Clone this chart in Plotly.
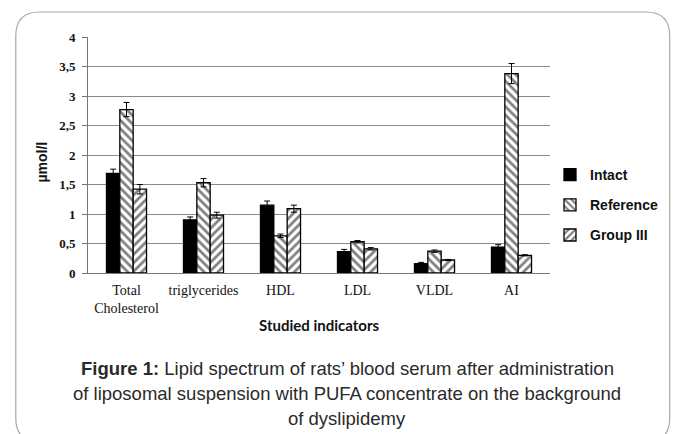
import plotly.graph_objects as go

# Lipid indicators per group (µmol/l) with their error margins
categories = ["Total<br>Cholesterol", "triglycerides", "HDL", "LDL", "VLDL", "AI"]
intact = [1.69, 0.90, 1.15, 0.36, 0.16, 0.44]
intact_err = [0.07, 0.05, 0.07, 0.04, 0.02, 0.04]
reference = [2.77, 1.53, 0.63, 0.53, 0.37, 3.38]
reference_err = [0.12, 0.07, 0.03, 0.02, 0.02, 0.17]
group3 = [1.42, 0.98, 1.09, 0.41, 0.22, 0.30]
group3_err = [0.08, 0.05, 0.06, 0.02, 0.01, 0.01]
y_ticks = [0, 0.5, 1, 1.5, 2, 2.5, 3, 3.5, 4]
y_tick_labels = ["0", "0,5", "1", "1,5", "2", "2,5", "3", "3,5", "4"]

W, H = 675, 434
L, R, T, B = 88, 555, 37, 273  # plot area in pixels


def px(x):
    return (x - L) / (R - L)


def py(y):
    return (B - y) / (B - T)


def bar(name, vals, errs, pattern):
    marker = dict(color="black", line=dict(color="black", width=1.3))
    if pattern:
        marker = dict(color="white", line=dict(color="black", width=1.3),
                      pattern=dict(shape=pattern, fgcolor="black", bgcolor="white",
                                   size=6, solidity=0.45, fillmode="overlay"))
    return go.Bar(
        name=name, x=categories, y=vals, marker=marker, legendgroup=name,
        error_y=dict(type="data", array=errs, color="black", thickness=1, width=3),
    )


fig = go.Figure([
    bar("Intact", intact, intact_err, None),
    bar("Reference", reference, reference_err, "\\"),
    bar("Group III", group3, group3_err, "/"),
])

# rounded frame around the figure
x0, y0, x1, y1, r = 15, 12, 676, 442, 24
frame = (f"M {px(x0)},{py(y0 + r)} Q {px(x0)},{py(y0)} {px(x0 + r)},{py(y0)} "
         f"L {px(x1 - r)},{py(y0)} Q {px(x1)},{py(y0)} {px(x1)},{py(y0 + r)} "
         f"L {px(x1)},{py(y1 - r)} Q {px(x1)},{py(y1)} {px(x1 - r)},{py(y1)} "
         f"L {px(x0 + r)},{py(y1)} Q {px(x0)},{py(y1)} {px(x0)},{py(y1 - r)} Z")

caption_font = dict(family="Liberation Sans, Arial, sans-serif", size=18.5, color="#2a2a2a")
captions = [
    ("<b>Figure 1:</b> Lipid spectrum of rats’ blood serum after administration", 368),
    ("of liposomal suspension with PUFA concentrate on the background", 393),
    ("of dyslipidemy", 418),
]
annotations = [
    dict(text=t, x=px(350), y=py(yy), xref="paper", yref="paper", showarrow=False,
         xanchor="center", yanchor="middle", font=caption_font)
    for t, yy in captions
]
annotations.append(dict(text="<b>Studied indicators</b>", x=px(322), y=py(325),
                        xref="paper", yref="paper", showarrow=False,
                        xanchor="center", yanchor="middle",
                        font=dict(family="Lato, Liberation Sans, sans-serif", size=15, color="#111")))
annotations.append(dict(text="<b>µmol/l</b>", x=px(41), y=py(162), xref="paper", yref="paper",
                        showarrow=False, textangle=-90, xanchor="center", yanchor="middle",
                        font=dict(family="Liberation Sans, Arial, sans-serif", size=14, color="#111")))

fig.update_layout(
    width=W, height=H,
    margin=dict(l=L, r=W - R, t=T, b=H - B),
    paper_bgcolor="white", plot_bgcolor="white",
    barmode="group", bargap=0.48, bargroupgap=0,
    showlegend=True,
    legend=dict(x=px(555), y=py(159), xanchor="left", yanchor="top",
                font=dict(family="Liberation Sans, Arial, sans-serif", size=14, color="#111",
                          weight="bold"),
                traceorder="grouped", tracegroupgap=9, itemwidth=30,
                bgcolor="rgba(0,0,0,0)"),
    shapes=[dict(type="path", path=frame, xref="paper", yref="paper",
                 line=dict(color="#a8a8a8", width=1.2), layer="below")],
    annotations=annotations,
)
fig.update_yaxes(range=[0, 4], tickvals=y_ticks, ticktext=y_tick_labels,
                 showgrid=True, gridcolor="#8a8a8a", gridwidth=1,
                 showline=True, linecolor="#777", linewidth=1,
                 ticks="outside", ticklen=5, tickcolor="#777", ticklabelstandoff=4,
                 tickfont=dict(family="Liberation Serif, Times New Roman, serif", size=13,
                               color="#111", weight="bold"),
                 zeroline=False)
fig.update_xaxes(showline=True, linecolor="#777", linewidth=1, showgrid=False,
                 tickfont=dict(family="Liberation Serif, Times New Roman, serif", size=14, color="#111"),
                 ticks="", tickangle=0, ticklabelstandoff=4)

fig.write_html("out.html")
